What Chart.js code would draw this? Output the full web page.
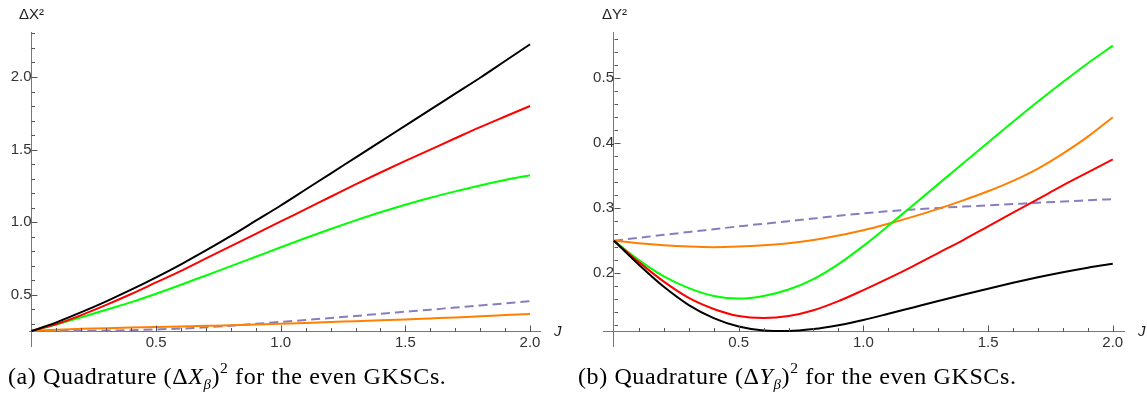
<!DOCTYPE html>
<html>
<head>
<meta charset="utf-8">
<script src="https://cdn.jsdelivr.net/npm/chart.js@4.4.1/dist/chart.umd.min.js"></script>
<style>
  body { margin: 0; background: #fff; width: 1147px; height: 401px; overflow: hidden; position: relative; }
  canvas { position: absolute; top: 0; }
  #dx-canvas { left: 0; }
  #dy-canvas { left: 570px; }
  .cap { position: absolute; top: 362px; font-family: "Liberation Serif", serif; font-size: 24px; letter-spacing: 0.6px; white-space: nowrap; color: #000; line-height: 28px; }
  .cap sub { font-size: 0.62em; vertical-align: -0.35em; line-height: 0; }
  .cap sup { font-size: 0.65em; vertical-align: 0.7em; line-height: 0; }
  #cap-a { left: 8px; }
  #cap-b { left: 578px; }
</style>
</head>
<body>
<canvas id="dx-canvas" width="570" height="360"></canvas>
<canvas id="dy-canvas" width="577" height="360"></canvas>
<div class="cap" id="cap-a">(a) Quadrature (Δ<i>X</i><sub><i>β</i></sub>)<sup>2</sup> for the even GKSCs.</div>
<div class="cap" id="cap-b">(b) Quadrature (Δ<i>Y</i><sub><i>β</i></sub>)<sup>2</sup> for the even GKSCs.</div>
<script>
// J grid shared by every curve
var jValues = [0, 0.1, 0.2, 0.3, 0.4, 0.5, 0.6, 0.7, 0.8, 0.9, 1.0, 1.1, 1.2, 1.3, 1.4, 1.5, 1.6, 1.7, 1.8, 1.9, 2.0];

// (a) quadrature (dX)^2
var dxBlack  = [0.25, 0.31, 0.38, 0.455, 0.535, 0.62, 0.71, 0.805, 0.905, 1.01, 1.115, 1.225, 1.335, 1.445, 1.555, 1.665, 1.775, 1.885, 1.995, 2.11, 2.225];
var dxRed    = [0.25, 0.298, 0.36, 0.43, 0.505, 0.585, 0.665, 0.75, 0.835, 0.92, 1.005, 1.09, 1.175, 1.26, 1.342, 1.422, 1.50, 1.578, 1.655, 1.728, 1.80];
var dxGreen  = [0.25, 0.295, 0.345, 0.397, 0.449, 0.507, 0.569, 0.633, 0.697, 0.762, 0.827, 0.891, 0.953, 1.012, 1.068, 1.12, 1.168, 1.212, 1.253, 1.29, 1.323];
var dxOrange = [0.25, 0.259, 0.265, 0.27, 0.274, 0.278, 0.282, 0.286, 0.29, 0.295, 0.30, 0.306, 0.312, 0.318, 0.324, 0.33, 0.337, 0.344, 0.352, 0.36, 0.368];
var dxPurple = [0.25, 0.25, 0.251, 0.253, 0.256, 0.261, 0.267, 0.276, 0.287, 0.30, 0.313, 0.326, 0.34, 0.354, 0.369, 0.383, 0.397, 0.412, 0.426, 0.441, 0.455];

// (b) quadrature (dY)^2
var dyBlack  = [0.25, 0.213, 0.179, 0.151, 0.131, 0.118, 0.112, 0.111, 0.114, 0.12, 0.128, 0.1375, 0.1473, 0.1571, 0.1668, 0.1762, 0.1852, 0.1937, 0.2015, 0.2085, 0.2145];
var dyRed    = [0.25, 0.217, 0.187, 0.162, 0.145, 0.134, 0.131, 0.134, 0.143, 0.157, 0.174, 0.192, 0.211, 0.231, 0.251, 0.272, 0.293, 0.314, 0.335, 0.355, 0.375];
var dyGreen  = [0.25, 0.22, 0.195, 0.177, 0.165, 0.161, 0.165, 0.175, 0.191, 0.214, 0.242, 0.273, 0.305, 0.337, 0.369, 0.401, 0.433, 0.464, 0.494, 0.523, 0.55];
var dyOrange = [0.25, 0.246, 0.243, 0.241, 0.24, 0.241, 0.243, 0.246, 0.251, 0.258, 0.266, 0.276, 0.287, 0.299, 0.312, 0.326, 0.342, 0.361, 0.384, 0.41, 0.44];
var dyPurple = [0.25, 0.2545, 0.259, 0.2634, 0.2677, 0.272, 0.276, 0.28, 0.284, 0.2882, 0.292, 0.2952, 0.298, 0.3004, 0.3024, 0.3043, 0.3063, 0.3083, 0.3102, 0.3121, 0.314];

function range(from, to, step) {
    var out = [];
    for (var v = from; v <= to + step / 2; v += step) out.push(Math.round(v * 1000) / 1000);
    return out;
}

function toPoints(ys) {
    return ys.map(function(y, i) { return {x: jValues[i], y: y}; });
}

function isMultiple(v, step) {
    var r = v / step;
    return Math.abs(r - Math.round(r)) < 1e-6;
}

// Mathematica style inward ticks plus axis labels
var mathAxes = {
    id: 'mathAxes',
    afterDraw: function(chart, args, o) {
        var ctx = chart.ctx, xs = chart.scales.x, ys = chart.scales.y;
        var ax = Math.round(xs.getPixelForValue(0)) + 0.5;
        var ay = Math.round(ys.getPixelForValue(o.xAxisAt)) + 0.5;
        ctx.save();
        ctx.strokeStyle = '#555';
        ctx.lineWidth = 1;
        ctx.beginPath();
        o.xTicks.forEach(function(v) {
            var p = Math.round(xs.getPixelForValue(v)) + 0.5;
            var len = isMultiple(v, o.xMajor) ? 6 : 3.5;
            ctx.moveTo(p, ay);
            ctx.lineTo(p, ay - len);
        });
        o.yTicks.forEach(function(v) {
            var p = Math.round(ys.getPixelForValue(v)) + 0.5;
            var len = isMultiple(v, o.yMajor) ? 6 : 3.5;
            ctx.moveTo(ax, p);
            ctx.lineTo(ax + len, p);
        });
        ctx.stroke();
        ctx.fillStyle = '#222';
        ctx.font = '15px "Liberation Sans", Arial, sans-serif';
        ctx.textAlign = 'center';
        ctx.textBaseline = 'middle';
        ctx.fillText(o.yTitle, ax, 15);
        ctx.font = 'italic 15px "Liberation Sans", Arial, sans-serif';
        ctx.textAlign = 'left';
        ctx.fillText('J', xs.right + 14, ay);
        ctx.restore();
    }
};

function makeChart(canvasId, series, cfg) {
    var colors = ['#000000', '#ff0000', '#00ff00', '#ff8000', '#8a7dbf'];
    var datasets = series.map(function(s, i) {
        return {
            data: toPoints(s),
            borderColor: colors[i],
            borderWidth: 2,
            borderDash: i === 4 ? [9, 5] : [],
            pointRadius: 0,
            cubicInterpolationMode: 'monotone',
            fill: false
        };
    });
    var tickFont = {family: '"Liberation Sans", Arial, sans-serif', size: 15};
    return new Chart(document.getElementById(canvasId).getContext('2d'), {
        type: 'line',
        data: {datasets: datasets},
        options: {
            responsive: false,
            animation: false,
            layout: {padding: cfg.padding},
            plugins: {
                legend: {display: false},
                tooltip: {enabled: false},
                mathAxes: cfg.axes
            },
            scales: {
                x: {
                    type: 'linear',
                    min: cfg.xMin, max: cfg.xMax,
                    position: {y: cfg.axes.xAxisAt},
                    border: {color: '#777', width: 1},
                    grid: {drawOnChartArea: false, drawTicks: false},
                    ticks: {
                        stepSize: 0.5, includeBounds: false, autoSkip: false, maxRotation: 0,
                        padding: 3, color: '#333', font: tickFont,
                        callback: function(v) { return v <= 0 ? '' : v.toFixed(1); }
                    }
                },
                y: {
                    type: 'linear',
                    min: cfg.yMin, max: cfg.yMax,
                    position: {x: 0},
                    border: {color: '#777', width: 1},
                    grid: {drawOnChartArea: false, drawTicks: false},
                    ticks: {
                        stepSize: cfg.yStep, includeBounds: false, autoSkip: false,
                        padding: 5, color: '#333', font: tickFont,
                        callback: function(v) { return v <= cfg.axes.xAxisAt ? '' : v.toFixed(1); }
                    }
                }
            }
        },
        plugins: [mathAxes]
    });
}

makeChart('dx-canvas', [dxBlack, dxRed, dxGreen, dxOrange, dxPurple], {
    xMin: -0.01, xMax: 2.04, yMin: 0.147, yMax: 2.31, yStep: 0.5,
    padding: {left: 29, right: 30, top: 32, bottom: 10},
    axes: {xAxisAt: 0.25, xTicks: range(0.1, 2.0, 0.1), xMajor: 0.5,
           yTicks: range(0.3, 2.3, 0.1), yMajor: 0.5, yTitle: 'ΔX²'}
});

makeChart('dy-canvas', [dyBlack, dyRed, dyGreen, dyOrange, dyPurple], {
    xMin: -0.044, xMax: 2.045, yMin: 0.088, yMax: 0.571, yStep: 0.1,
    padding: {left: 33, right: 23, top: 32, bottom: 10},
    axes: {xAxisAt: 0.1106, xTicks: range(0.1, 2.0, 0.1), xMajor: 0.5,
           yTicks: range(0.12, 0.56, 0.02), yMajor: 0.1, yTitle: 'ΔY²'}
});
</script>
</body>
</html>
